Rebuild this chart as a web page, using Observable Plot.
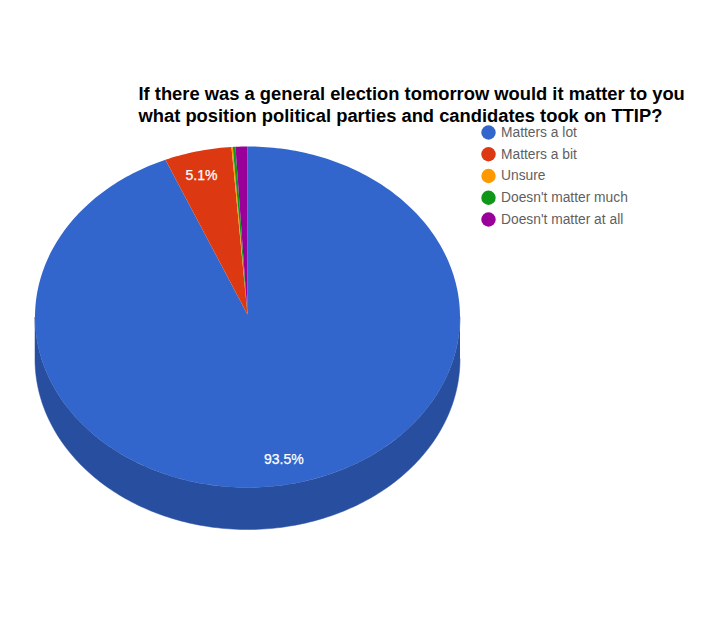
<!DOCTYPE html>
<html>
<head>
<meta charset="utf-8">
<script src="https://cdn.jsdelivr.net/npm/d3@7"></script>
<script src="https://cdn.jsdelivr.net/npm/@observablehq/plot@0.6"></script>
<style>
html,body{margin:0;padding:0;background:#fff}
svg{display:block}
</style>
</head>
<body>
<div id="chart"></div>
<script>
const titleText = "If there was a general election tomorrow would it matter to you\nwhat position political parties and candidates took on TTIP?";
const categories = ["Matters a lot", "Matters a bit", "Unsure", "Doesn't matter much", "Doesn't matter at all"];
const shares = [93.5, 5.1, 0.1, 0.2, 0.9];
const colors = ["#3366cc", "#dc3912", "#ff9900", "#109618", "#990099"];
const labelled = ["Matters a lot", "Matters a bit"];
const sideColor = "#284f9f";

const depth = 42 / 170.5;           // extrusion, in radii of the tilted pie
const labelRadius = 0.855;
const apexY = 0.015;
const STEP = Math.PI / 180;

const arcs = d3.pie().sort(null)(shares);
const at = (angle, drop = 0) => ({px: Math.sin(angle), py: Math.cos(angle) - drop});

const sliceRing = arcs.flatMap((a, i) => {
  const n = Math.max(2, Math.ceil((a.endAngle - a.startAngle) / STEP));
  const rim = d3.range(n + 1).map(k => at(a.startAngle + (a.endAngle - a.startAngle) * k / n));
  return [{px: 0, py: apexY}, ...rim, {px: 0, py: apexY}].map(p => ({...p, name: categories[i]}));
});

const frontAngles = d3.range(Math.PI / 2, 3 * Math.PI / 2 + STEP / 2, STEP);
const sideBand = [
  ...frontAngles.map(t => at(t)),
  ...frontAngles.slice().reverse().map(t => at(t, depth))
];

const sliceLabels = arcs
  .map((a, i) => ({name: categories[i], share: shares[i], mid: (a.startAngle + a.endAngle) / 2}))
  .filter(d => labelled.includes(d.name))
  .map(d => ({text: d.share.toFixed(1) + "%", px: Math.sin(d.mid) * labelRadius, py: Math.cos(d.mid) * labelRadius}));

// pixel <-> data helpers for the elements that sit off the pie
const xRange = [34.5, 459.5], yRange = [487, 146];
const xData = d3.scaleLinear().domain(xRange).range([-1, 1]);
const yData = d3.scaleLinear().domain(yRange).range([-1, 1]);
const legendRows = categories.map((name, i) => ({name, px: xData(488), tx: xData(500.5), py: yData(132 + i * 21.75)}));
const titleRow = [{text: titleText, px: xData(138), py: yData(84.5)}];

const font = "'Liberation Sans', Arial, sans-serif";
const labelStyle = {x: "px", y: "py", text: "text", fill: "#fff", fontSize: 14, fontFamily: font, stroke: "#fff", strokeWidth: 0.25};

const chart = Plot.plot({
  width: 705,
  height: 629,
  margin: 0,
  style: {background: "#fff", fontFamily: font},
  x: {domain: [-1, 1], range: xRange, axis: null},
  y: {domain: [-1, 1], range: yRange, axis: null},
  color: {domain: categories, range: colors},
  marks: [
    Plot.line(sideBand, {x: "px", y: "py", fill: sideColor, stroke: sideColor, strokeWidth: 0.5}),
    Plot.line(sliceRing, {x: "px", y: "py", z: "name", fill: "name"}),
    Plot.text(sliceLabels.slice(0, 1), {...labelStyle, dx: 0.5}),
    Plot.text(sliceLabels.slice(1), {...labelStyle, dx: -3.5}),
    Plot.dot(legendRows, {x: "px", y: "py", r: 7.2, fill: "name"}),
    Plot.text(legendRows, {x: "tx", y: "py", text: "name", textAnchor: "start", fill: "#5f5f5f", fontSize: 13.8, fontFamily: font}),
    Plot.text(titleRow, {x: "px", y: "py", text: "text", textAnchor: "start", lineAnchor: "top", lineHeight: 1.17, fill: "#000", fontSize: 18.35, fontWeight: "bold", fontFamily: font})
  ]
});
document.getElementById("chart").append(chart);
</script>
</body>
</html>
